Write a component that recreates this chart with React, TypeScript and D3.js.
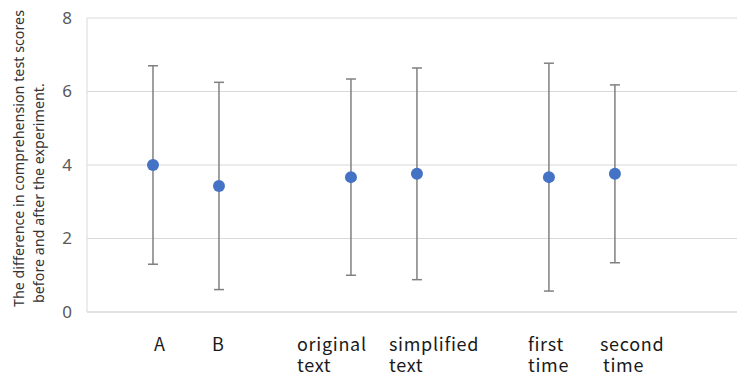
import React from 'react';
import * as d3 from 'd3';

// categories sit in slots along the x axis; empty slots leave the gaps between groups
const categories = ['A', 'B', 'original\ntext', 'simplified\ntext', 'first\ntime', 'second\ntime'];
const slots = [1, 2, 4, 5, 7, 8];
const means = [4.0, 3.43, 3.67, 3.76, 3.67, 3.76];
const errors = [2.7, 2.82, 2.67, 2.88, 3.1, 2.42];
const yTicks = [0, 2, 4, 6, 8];

// hand-placed label offsets from the point (the original labels were text boxes)
const labelShift = [1, -7, -54, -28, -21, -15];
const line2Shift = [0, 0, 0, 0, 0, 3];

const width = 737;
const height = 378;
const margin = { top: 18, right: 0, bottom: 66, left: 87 };

function App() {
  const x = d3.scaleLinear()
    .domain([0, 9.85])
    .range([margin.left, width - margin.right]);

  const y = d3.scaleLinear()
    .domain([0, 8])
    .range([height - margin.bottom, margin.top]);

  const rows = categories.map((c, i) => ({
    label: c.split('\n'),
    slot: slots[i],
    mean: means[i],
    err: errors[i],
    shift: labelShift[i],
    shift2: line2Shift[i],
  }));

  return (
    <svg width={width} height={height} style={{ position: 'absolute', left: 0, top: 0, background: '#fff' }}>
      <g>
        {yTicks.map(t => (
          <line key={t} x1={margin.left} x2={width} y1={y(t)} y2={y(t)}
            stroke="#d9d9d9" strokeWidth={t === 0 ? 1.5 : 1} />
        ))}
        <line x1={margin.left} x2={margin.left} y1={y(8)} y2={y(0)} stroke="#d9d9d9" />
      </g>

      <g fontFamily="'Noto Sans', sans-serif" fontSize={17} fill="#595959" textAnchor="end">
        {yTicks.map(t => (
          <text key={t} x={72} y={y(t)} dy="0.35em">{t}</text>
        ))}
      </g>

      <g fontFamily="'Noto Sans', sans-serif" fontSize={14.3} fill="#333" transform="rotate(-90)">
        <text x={-307} y={24}>The difference in comprehension test scores</text>
        <text x={-303} y={44}>before and after the experiment.</text>
      </g>

      <g stroke="#808080" strokeWidth={1.5}>
        {rows.map(d => (
          <g key={d.label.join(' ')}>
            <line x1={x(d.slot)} x2={x(d.slot)} y1={y(d.mean - d.err)} y2={y(d.mean + d.err)} />
            <line x1={x(d.slot) - 5} x2={x(d.slot) + 5} y1={y(d.mean + d.err)} y2={y(d.mean + d.err)} />
            <line x1={x(d.slot) - 5} x2={x(d.slot) + 5} y1={y(d.mean - d.err)} y2={y(d.mean - d.err)} />
          </g>
        ))}
      </g>

      <g fill="#4472c4">
        {rows.map(d => (
          <circle key={d.label.join(' ')} cx={x(d.slot)} cy={y(d.mean)} r={6} />
        ))}
      </g>

      <g fontFamily="'Noto Sans CJK JP', sans-serif" fontSize={18} letterSpacing={0.7} fill="#1a1a1a">
        {rows.map(d => (
          <g key={d.label.join(' ')}>
            <text x={x(d.slot) + d.shift} y={351}>{d.label[0]}</text>
            {d.label[1] && (
              <text x={x(d.slot) + d.shift + d.shift2} y={372}>{d.label[1]}</text>
            )}
          </g>
        ))}
      </g>
    </svg>
  );
}

export default App;
